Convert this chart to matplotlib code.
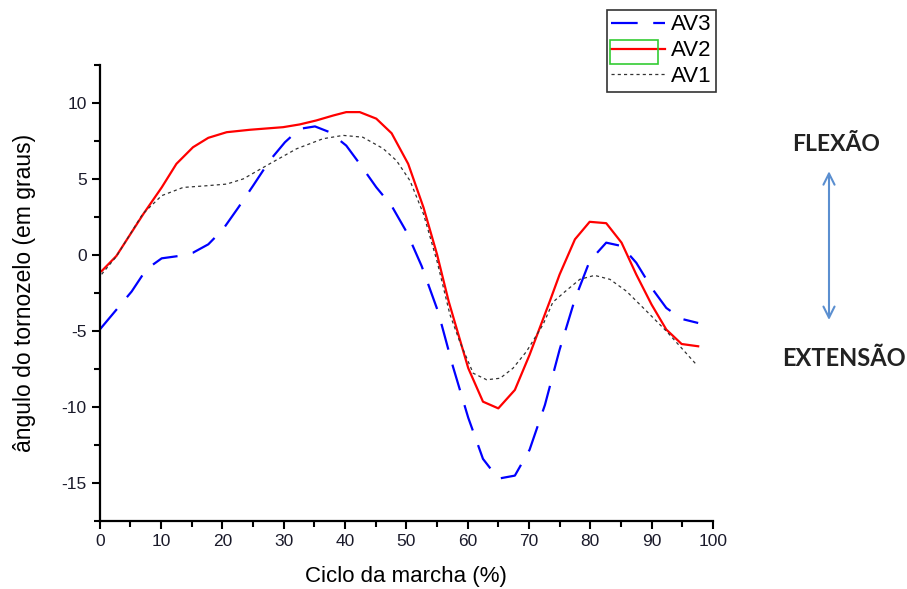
import numpy as np
import matplotlib.pyplot as plt
from matplotlib.patches import Rectangle

plt.rcParams['font.family'] = ['Liberation Sans', 'DejaVu Sans']
plt.rcParams['axes.unicode_minus'] = False

# AV2 (red, solid)
av2_x = [0.3, 2.7, 7.1, 10.1, 12.5, 15.2, 17.7, 20.7, 24.5, 29.9, 32.6, 35.3, 38.1, 40.2, 42.4,
         45.1, 47.6, 50.3, 52.8, 55.0, 56.9, 60.1, 62.5, 65.0, 67.7, 70.1, 73.4, 75.0, 77.5,
         79.9, 82.6, 85.1, 87.5, 90.0, 92.4, 94.9, 97.6]
av2_y = [-1.06, -0.07, 2.69, 4.44, 5.99, 7.08, 7.7, 8.07, 8.23, 8.4, 8.58, 8.84, 9.17, 9.39, 9.39,
         8.96, 8.0, 5.99, 3.12, 0.05, -3.04, -7.44, -9.64, -10.08, -8.87, -6.56, -3.04, -1.28, 1.03,
         2.18, 2.09, 0.81, -1.28, -3.26, -4.9, -5.85, -6.0]

# AV1 (black, dotted)
av1_x = [0.3, 2.7, 7.0, 10.1, 13.6, 17.4, 20.7, 23.4, 27.7, 32.1, 36.4, 39.7, 42.9, 46.2, 48.4,
         50.6, 52.8, 55.0, 57.1, 58.7, 60.9, 63.1, 65.3, 67.4, 69.6, 72.3, 73.9, 75.9, 78.3,
         80.7, 83.2, 85.9, 89.2, 92.4, 97.3]
av1_y = [-1.27, -0.1, 2.7, 3.9, 4.44, 4.55, 4.66, 5.0, 5.99, 6.98, 7.64, 7.86, 7.74, 7.0, 6.2,
         4.88, 2.69, -0.4, -3.9, -5.68, -7.77, -8.2, -8.1, -7.44, -6.34, -4.57, -3.1, -2.4, -1.6,
         -1.34, -1.6, -2.38, -3.7, -5.0, -7.2]

# AV3 (blue, dashed)
av3_x = [0.0, 5.2, 7.6, 10.1, 12.8, 15.2, 17.7, 20.1, 22.6, 25.0, 27.7, 30.2, 32.6, 35.1, 37.5,
         40.2, 42.4, 45.1, 47.6, 50.1, 52.5, 55.2, 57.6, 60.1, 62.5, 65.0, 67.7, 70.1, 72.6,
         75.0, 77.5, 79.9, 82.6, 85.1, 87.5, 90.0, 92.4, 94.9, 97.6]
av3_y = [-4.9, -2.4, -0.94, -0.22, -0.07, 0.15, 0.7, 1.69, 3.12, 4.55, 6.2, 7.41, 8.29, 8.45, 8.07,
         7.19, 5.99, 4.45, 3.23, 1.47, -0.73, -3.75, -7.33, -10.7, -13.4, -14.7, -14.5, -12.8, -9.86,
         -6.22, -2.9, -0.4, 0.81, 0.59, -0.51, -2.16, -3.48, -4.2, -4.47]

fig = plt.figure(figsize=(9.07, 5.89), dpi=100)
ax = fig.add_axes([0.110, 0.115, 0.676, 0.775])

l3, = ax.plot(av3_x, av3_y, color='#0000ff', lw=1.6, dashes=(12, 7), label='AV3')
l2, = ax.plot(av2_x, av2_y, color='#ff0000', lw=1.6, label='AV2')
l1, = ax.plot(av1_x, av1_y, color='#333333', lw=0.9, dashes=(2.5, 2.5), label='AV1')

ax.set_xlim(0, 100)
ax.set_ylim(-17.5, 12.5)
ax.set_xticks(np.arange(0, 101, 10))
ax.set_xticks(np.arange(0, 101, 5), minor=True)
ax.set_yticks([-15, -10, -5, 0, 5, 10])
ax.set_yticks(np.arange(-17.5, 12.6, 2.5), minor=True)
for s in ['top', 'right']:
    ax.spines[s].set_visible(False)
for s in ['left', 'bottom']:
    ax.spines[s].set_linewidth(1.6)
ax.tick_params(which='major', length=6, width=1.5, labelsize=12.5, direction='out',
               labelcolor='#1a1a2a')
ax.tick_params(which='minor', length=4, width=1.5, direction='out')
ax.set_xlabel('Ciclo da marcha (%)', fontsize=16, labelpad=12)
ax.set_ylabel('ângulo do tornozelo (em graus)', fontsize=16.5, labelpad=18)

leg = fig.legend(handles=[l3, l2, l1], loc='upper left', bbox_to_anchor=(0.669, 0.983),
                 fontsize=16, frameon=True, fancybox=False, edgecolor='black',
                 handlelength=2.4, handletextpad=0.3, borderpad=0.2, labelspacing=0.22,
                 borderaxespad=0)
leg.get_frame().set_linewidth(1.2)

# green selection box around AV2 handle
fig.patches.append(Rectangle((0.672, 0.891), 0.053, 0.041, transform=fig.transFigure,
                             fill=False, edgecolor='#33cc33', lw=1.2, zorder=10))

fig.text(0.922, 0.754, 'FLEXÃO', fontsize=16.5, fontweight='bold', family='Lato',
         ha='center', va='center', color='#222222')
fig.text(0.930, 0.392, 'EXTENSÃO', fontsize=17, fontweight='bold', family='Lato',
         ha='center', va='center', color='#222222')
ax.annotate('', xy=(0.914, 0.714), xytext=(0.914, 0.452), xycoords='figure fraction',
            textcoords='figure fraction',
            arrowprops=dict(arrowstyle='<->', color='#5b8fd0', lw=1.5, mutation_scale=20))

fig.savefig('out.png', dpi=100)
